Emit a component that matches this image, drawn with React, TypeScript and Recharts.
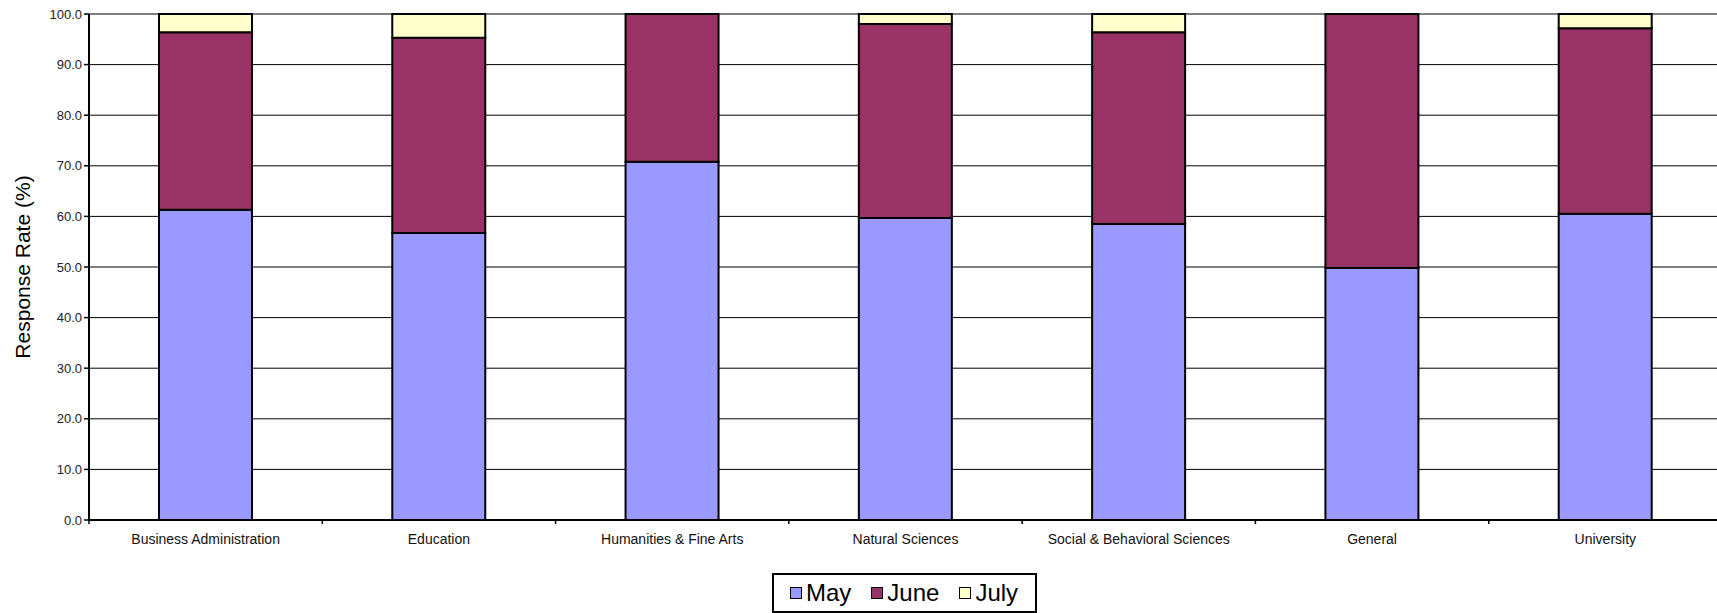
import { BarChart, Bar, XAxis, YAxis, CartesianGrid } from "recharts";

const CATEGORIES = [
  "Business Administration",
  "Education",
  "Humanities & Fine Arts",
  "Natural Sciences",
  "Social & Behavioral Sciences",
  "General",
  "University",
];
const MAY = [61.3, 56.7, 70.8, 59.7, 58.5, 49.8, 60.5];
const JUNE = [35.1, 38.6, 29.2, 38.3, 37.9, 50.2, 36.7];
const JULY = [3.6, 4.7, 0, 2.0, 3.6, 0, 2.8];
const Y_TICKS = [0, 10, 20, 30, 40, 50, 60, 70, 80, 90, 100];

const SERIES = [
  { key: "may", name: "May", color: "#9999FF" },
  { key: "june", name: "June", color: "#993366" },
  { key: "july", name: "July", color: "#FFFFCC" },
];

const FONT = "'Liberation Sans', Arial, sans-serif";

const data = CATEGORIES.map((name, i) => ({
  name,
  may: MAY[i],
  june: JUNE[i],
  july: JULY[i],
}));

const XTick = (props: any) => {
  const { x, y, payload, index } = props;
  const half = payload?.offset ?? 116.6;
  return (
    <g>
      <line x1={x - half} y1={y} x2={x - half} y2={y + 4} stroke="#000" strokeWidth={1.5} />
      {index === CATEGORIES.length - 1 && (
        <line x1={x + half} y1={y} x2={x + half} y2={y + 4} stroke="#000" strokeWidth={1.5} />
      )}
      <text x={x} y={y + 24} textAnchor="middle" fontSize={14} fill="#111" fontFamily={FONT}>
        {payload.value}
      </text>
    </g>
  );
};

const gridLine = (p: any) => {
  const isTop = Math.abs(p.y1 - p.y) < 0.5;
  return (
    <line
      key={p.key ?? p.index}
      x1={p.x1}
      y1={p.y1}
      x2={p.x2}
      y2={p.y2}
      stroke={isTop ? "#808080" : "#000"}
      strokeWidth={isTop ? 2 : 1}
    />
  );
};

const YLabel = (props: any) => {
  const vb = props.viewBox || { x: 0, y: 14, height: 506 };
  const cx = vb.x + 22;
  const cy = vb.y + vb.height / 2;
  return (
    <text
      x={cx}
      y={cy}
      transform={`rotate(-90 ${cx} ${cy})`}
      textAnchor="middle"
      dominantBaseline="central"
      fontSize={21}
      fill="#000"
      fontFamily={FONT}
    >
      Response Rate (%)
    </text>
  );
};

export default function App() {
  return (
    <div
      style={{
        position: "absolute",
        left: 0,
        top: 0,
        width: 1717,
        height: 613,
        overflow: "hidden",
        background: "#fff",
        fontFamily: FONT,
      }}
    >
      <BarChart
        width={1724}
        height={613}
        data={data}
        margin={{ top: 14, right: 2, bottom: 63, left: 0 }}
        barCategoryGap="30%"
      >
        <CartesianGrid vertical={false} horizontal={gridLine} />
        <XAxis
          dataKey="name"
          height={30}
          interval={0}
          tickLine={false}
          tickSize={0}
          tickMargin={0}
          axisLine={{ stroke: "#000", strokeWidth: 2 }}
          tick={<XTick />}
        />
        <YAxis
          width={89}
          domain={[0, 100]}
          ticks={Y_TICKS}
          interval={0}
          tickFormatter={(v: number) => v.toFixed(1)}
          tick={{ fontSize: 13, fill: "#222", fontFamily: FONT }}
          tickSize={5}
          tickMargin={2}
          tickLine={{ stroke: "#000", strokeWidth: 1.5 }}
          axisLine={{ stroke: "#000", strokeWidth: 2 }}
          label={<YLabel />}
        />
        {SERIES.map((s) => (
          <Bar
            key={s.key}
            dataKey={s.key}
            name={s.name}
            stackId="a"
            fill={s.color}
            stroke="#000"
            strokeWidth={2}
            isAnimationActive={false}
          />
        ))}
      </BarChart>
      <div
        style={{
          position: "absolute",
          left: 772,
          top: 573,
          width: 265,
          height: 40,
          boxSizing: "border-box",
          border: "2px solid #000",
          display: "flex",
          alignItems: "center",
          paddingLeft: 16,
          fontSize: 24,
          color: "#000",
          background: "#fff",
        }}
      >
        {SERIES.map((s, i) => (
          <div
            key={s.key}
            style={{ display: "flex", alignItems: "center", marginLeft: i === 0 ? 0 : 20 }}
          >
            <span
              style={{
                display: "inline-block",
                width: 12,
                height: 12,
                boxSizing: "border-box",
                border: "1.5px solid #000",
                background: s.color,
                marginRight: 4,
              }}
            />
            <span style={{ lineHeight: "24px" }}>{s.name}</span>
          </div>
        ))}
      </div>
    </div>
  );
}
